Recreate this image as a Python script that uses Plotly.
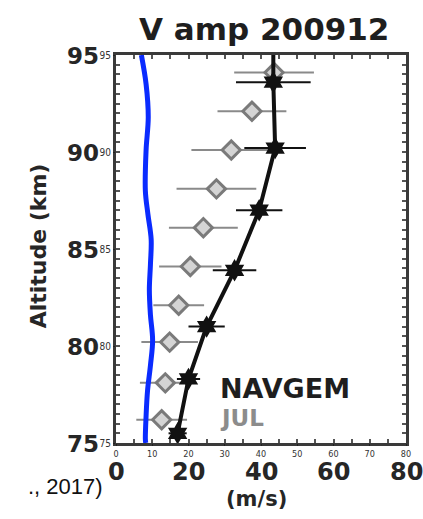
import plotly.graph_objects as go

# NAVGEM meridional wind amplitude profile (m/s) with spread
navgem_alt = [75.5, 78.3, 81.0, 83.9, 87.0, 90.2, 93.6]
navgem_amp = [17.0, 20.0, 25.0, 32.7, 39.5, 43.9, 43.4]
navgem_err = [2.5, 3.2, 5.0, 6.0, 6.4, 8.5, 10.3]

# JUL observed amplitude profile (m/s) with spread
jul_alt = [76.2, 78.1, 80.2, 82.1, 84.1, 86.1, 88.1, 90.1, 92.1, 94.1]
jul_amp = [12.6, 13.6, 14.8, 17.3, 20.5, 24.1, 27.7, 31.8, 37.5, 43.6]
jul_err = [7.0, 7.0, 7.8, 7.0, 8.6, 9.5, 11.0, 11.0, 9.5, 11.0]

# overlaid reference curve (m/s vs km)
ref_alt = [75.0, 75.2, 76.4, 77.7, 79.0, 80.3, 81.6, 82.9, 84.2, 85.5, 86.8, 88.0, 90.1, 91.8, 93.5, 95.0]
ref_amp = [8.2, 8.1, 8.3, 8.7, 9.5, 10.1, 9.5, 9.2, 9.5, 9.7, 8.8, 8.1, 8.3, 8.9, 8.3, 7.0]

x_ticks = [0, 10, 20, 30, 40, 50, 60, 70, 80]
y_ticks = [75, 80, 85, 90, 95]
big_x_ticks = [0, 20, 40, 60, 80]
big_y_ticks = [75, 80, 85, 90, 95]

BIG = "DejaVu Sans"
SMALL = "Liberation Sans Narrow, DejaVu Sans Condensed, sans-serif"

fig = go.Figure()

# frame axes with inner ticks
fig.add_trace(go.Scatter(x=[0, 80], y=[75, 95], xaxis="x2", yaxis="y2",
                         mode="markers", marker=dict(opacity=0), showlegend=False,
                         hoverinfo="skip"))

fig.add_trace(go.Scatter(
    x=jul_amp, y=jul_alt, mode="markers", name="JUL",
    error_x=dict(type="data", array=jul_err, color="#8a8a8a", thickness=2, width=0),
    marker=dict(symbol="diamond", size=14, color="#d4d4d4",
                line=dict(color="#7a7a7a", width=3)),
    showlegend=False,
))

# NAVGEM profile line, carried up to the top of the frame
fig.add_trace(go.Scatter(
    x=navgem_amp + [navgem_amp[-1]], y=navgem_alt + [95.0], mode="lines",
    line=dict(color="#111111", width=4), showlegend=False,
))

fig.add_trace(go.Scatter(
    x=navgem_amp, y=navgem_alt, mode="markers", name="NAVGEM",
    error_x=dict(type="data", array=navgem_err, color="#111111", thickness=2, width=0),
    marker=dict(symbol="hexagram", size=17, color="#111111"),
    showlegend=False,
))

fig.add_trace(go.Scatter(
    x=ref_amp, y=ref_alt, mode="lines", line=dict(color="#0a2bff", width=5, shape="spline"),
    showlegend=False,
))

annotations = []
for v in big_x_ticks:
    annotations.append(dict(x=v, y=0, xref="x", yref="paper", text=str(v), showarrow=False,
                            yanchor="top", xanchor="center", yshift=-14, borderpad=0,
                            font=dict(family=BIG, size=24, color="#262626", weight="bold")))
for v in big_y_ticks:
    annotations.append(dict(x=0, y=v, xref="paper", yref="y", text=str(v), showarrow=False,
                            xanchor="right", yanchor="middle", xshift=-15, yshift=-1,
                            font=dict(family=BIG, size=23, color="#262626", weight="bold")))
annotations += [
    dict(x=40.7, y=1, xref="x", yref="paper", text="V amp 200912", showarrow=False,
         yanchor="middle", xanchor="center", yshift=26,
         font=dict(family=BIG, size=31, color="#1e1e1e", weight="bold")),
    dict(x=38.8, y=0, xref="x", yref="paper", text="(m/s)", showarrow=False,
         yanchor="middle", xanchor="center", yshift=-56, borderpad=0,
         font=dict(family=BIG, size=21, color="#262626", weight="bold")),
    dict(x=-0.268, y=85.15, xref="paper", yref="y", text="Altitude (km)", showarrow=False,
         textangle=-90, xanchor="center", yanchor="middle",
         font=dict(family=BIG, size=22, color="#262626", weight="bold")),
    dict(x=29.0, y=77.8, xref="x", yref="y", text="NAVGEM", showarrow=False,
         xanchor="left", yanchor="middle", xshift=-2, borderpad=0,
         font=dict(family=BIG, size=27, color="#1e1e1e", weight="bold")),
    dict(x=29.0, y=76.3, xref="x", yref="y", text="JUL", showarrow=False,
         xanchor="left", yanchor="middle", xshift=-2, borderpad=0,
         font=dict(family=BIG, size=23, color="#8c8c8c", weight="bold")),
    dict(x=-0.038, y=-0.113, xref="paper", yref="paper", text="., 2017)", showarrow=False,
         xanchor="right", yanchor="middle",
         font=dict(family="Liberation Sans, Arial, sans-serif", size=22, color="#111111")),
]

fig.update_layout(
    width=423, height=519,
    margin=dict(l=116, r=12, t=55, b=76),
    paper_bgcolor="white", plot_bgcolor="white",
    xaxis=dict(range=[0, 80], tickvals=x_ticks, ticks="outside", ticklen=2, tickwidth=1,
               tickcolor="#222", showline=True, linecolor="#222", linewidth=1,
               showgrid=False, zeroline=False,
               tickfont=dict(family=SMALL, size=9, color="#333")),
    yaxis=dict(range=[75, 95], tickvals=y_ticks, ticks="outside", ticklen=2, tickwidth=1,
               tickcolor="#222", showline=True, linecolor="#222", linewidth=1,
               showgrid=False, zeroline=False,
               tickfont=dict(family=SMALL, size=10, color="#333")),
    xaxis2=dict(range=[0, 80], overlaying="x", side="bottom", anchor="y2",
                showticklabels=False, ticks="inside", ticklen=4, tickwidth=2,
                tickcolor="#555", dtick=5, showline=True, mirror="ticks",
                linecolor="#3a3a3a", linewidth=3, showgrid=False, zeroline=False),
    yaxis2=dict(range=[75, 95], overlaying="y", side="left", anchor="x2",
                showticklabels=False, ticks="inside", ticklen=4, tickwidth=2,
                tickcolor="#555", dtick=0.5, showline=True, mirror="ticks",
                linecolor="#3a3a3a", linewidth=3, showgrid=False, zeroline=False),
    annotations=annotations,
)

fig.write_html("out.html")
